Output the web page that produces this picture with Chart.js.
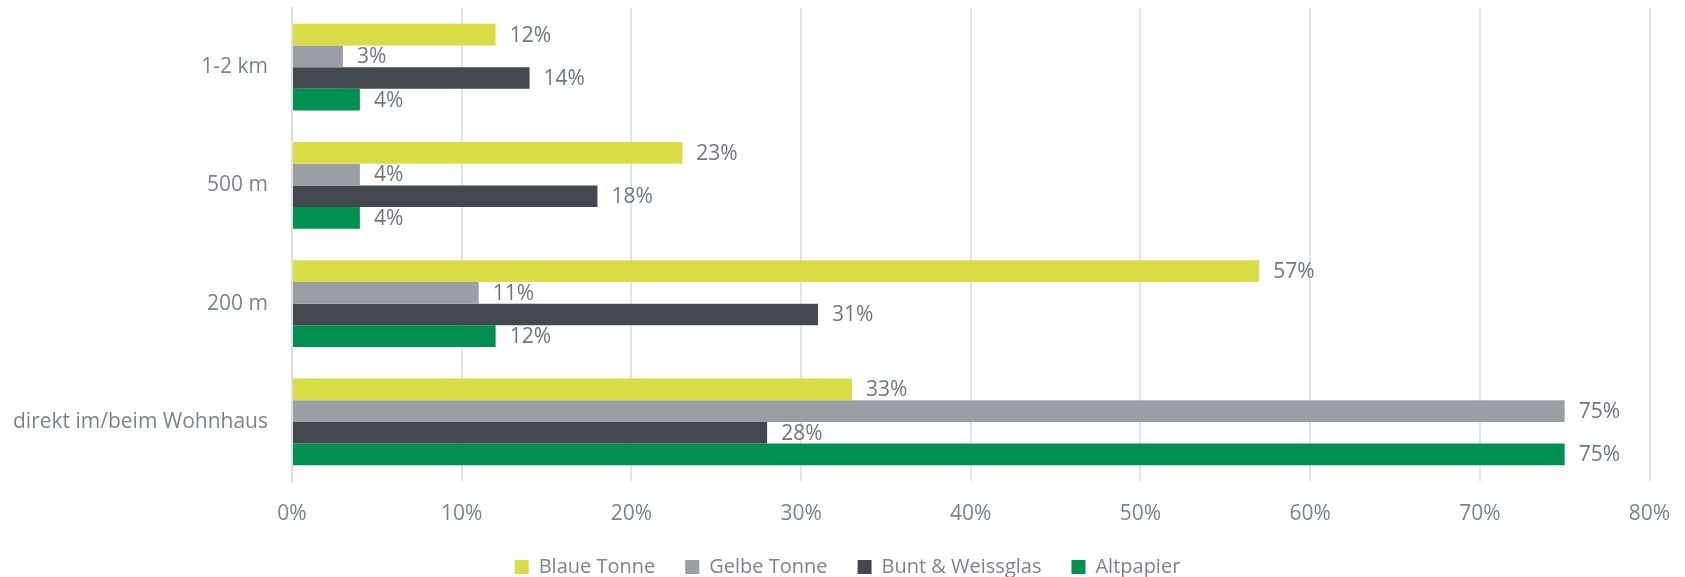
<!DOCTYPE html>
<html>
<head>
<meta charset="utf-8">
<script src="https://cdn.jsdelivr.net/npm/chart.js@4/dist/chart.umd.min.js"></script>
<style>
html,body{margin:0;padding:0;background:#fff;}
#wrap{width:1685px;height:577px;position:relative;}
</style>
</head>
<body>
<div id="wrap"><canvas id="c" width="1685" height="577"></canvas></div>
<script>
const categories = ['1-2 km', '500 m', '200 m', 'direkt im/beim Wohnhaus'];
const seriesNames = ['Blaue Tonne', 'Gelbe Tonne', 'Bunt & Weissglas', 'Altpapier'];
const blaueTonne = [12, 23, 57, 33];
const gelbeTonne = [3, 4, 11, 75];
const buntWeissglas = [14, 18, 31, 28];
const altpapier = [4, 4, 12, 75];
const xTicks = [0, 10, 20, 30, 40, 50, 60, 70, 80];
const colors = ['#d8dc45', '#999fa5', '#43474e', '#009150'];

const FONT = "'Open Sans', sans-serif";
const TEXT = '#7d838b';

const valueLabels = {
  id: 'valueLabels',
  afterDatasetsDraw(chart) {
    const ctx = chart.ctx;
    ctx.save();
    ctx.font = "21px " + FONT;
    ctx.fillStyle = '#71777f';
    ctx.textBaseline = 'middle';
    ctx.textAlign = 'left';
    chart.data.datasets.forEach((ds, i) => {
      const meta = chart.getDatasetMeta(i);
      meta.data.forEach((el, j) => {
        ctx.fillText(ds.data[j] + '%', el.x + 14, el.y + 1);
      });
    });
    ctx.restore();
  }
};

const seriesData = [blaueTonne, gelbeTonne, buntWeissglas, altpapier];

new Chart(document.getElementById('c'), {
  type: 'bar',
  data: {
    labels: categories,
    datasets: seriesNames.map((n, i) => ({
      label: n,
      data: seriesData[i],
      backgroundColor: colors[i],
      borderWidth: 0,
      barPercentage: 1.0,
      categoryPercentage: 0.735
    }))
  },
  options: {
    indexAxis: 'y',
    responsive: false,
    animation: false,
    layout: { padding: { top: 8, right: 0, left: 10, bottom: -10 } },
    plugins: {
      legend: {
        position: 'bottom',
        labels: {
          font: { family: FONT, size: 20 },
          color: TEXT,
          boxWidth: 14,
          boxHeight: 14,
          padding: 30
        }
      },
      tooltip: { enabled: false }
    },
    scales: {
      x: {
        min: 0,
        max: 80,
        afterBuildTicks(axis) { axis.ticks = xTicks.map(v => ({ value: v })); },
        afterFit(scale) { scale.paddingLeft = 0; scale.paddingRight = 35.5; scale.height = 46; },
        ticks: {
          callback: v => v + '%',
          font: { family: FONT, size: 21 },
          color: TEXT,
          padding: 20
        },
        grid: { color: '#e2e5e7', lineWidth: 2, drawTicks: false },
        border: { display: false }
      },
      y: {
        afterFit(scale) { scale.width = 282; scale.paddingTop = 0; scale.paddingBottom = 0; },
        ticks: {
          font: { family: FONT, size: 21 },
          color: TEXT,
          padding: 24
        },
        grid: { display: false, drawTicks: false },
        border: { display: true, color: '#dcdfe1', width: 2 }
      }
    }
  },
  plugins: [valueLabels]
});
</script>
</body>
</html>
